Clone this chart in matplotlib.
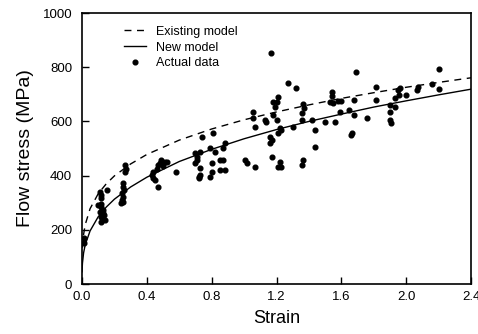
import numpy as np
import matplotlib.pyplot as plt

plt.rcParams['font.family'] = ['Liberation Sans', 'DejaVu Sans']

# --- Model curves ---
model_strain = [0.003, 0.01, 0.02, 0.05, 0.1, 0.15, 0.2, 0.3, 0.4, 0.6, 0.8,
                1.0, 1.2, 1.4, 1.6, 1.8, 2.0, 2.2, 2.4]
existing_stress = [134, 183, 219, 278, 333, 370, 399, 443, 478, 531, 572,
                   606, 635, 661, 685, 706, 726, 744, 761]
new_model_strain = [0.0] + model_strain
new_stress = [45, 77, 115, 145, 196, 248, 284, 313, 358, 394, 452, 497,
              536, 570, 600, 627, 653, 676, 698, 719]

# --- Measured data ---
data_strain = [
    0.01, 0.012,
    0.11, 0.12, 0.12, 0.152, 0.12, 0.12, 0.13, 0.13, 0.12, 0.135, 0.11, 0.14, 0.10, 0.115,
    0.265, 0.265, 0.255, 0.25, 0.245, 0.245, 0.25, 0.26, 0.24, 0.255, 0.27,
    0.523, 0.49, 0.47, 0.46, 0.44, 0.43, 0.45, 0.47, 0.48, 0.44, 0.51, 0.50,
    0.58,
    0.70, 0.708, 0.70, 0.728, 0.728, 0.72, 0.728, 0.739, 0.79, 0.80, 0.80, 0.79, 0.82,
    0.81, 0.85, 0.87, 0.85, 0.88, 0.87, 0.88, 0.71, 0.72,
    1.006, 1.02, 1.068, 1.057, 1.057, 1.068, 1.136, 1.13, 1.16, 1.16, 1.17, 1.17,
    1.167, 1.18, 1.20, 1.21, 1.19, 1.18, 1.20, 1.22, 1.21, 1.23, 1.22, 1.23, 1.21,
    1.27, 1.32, 1.30, 1.366, 1.37, 1.36, 1.356, 1.366, 1.36, 1.418, 1.44, 1.44,
    1.50, 1.56, 1.54, 1.545, 1.53, 1.55, 1.58, 1.60, 1.59, 1.644, 1.665, 1.66,
    1.68, 1.69, 1.68, 1.757, 1.815, 1.813,
    1.90, 1.90, 1.90, 1.905, 1.93, 1.93, 1.95, 1.96, 1.955, 2.00, 2.066, 2.07,
    2.16, 2.205, 2.205,
]
data_stress = [
    150, 170,
    340, 330, 318, 347, 296, 285, 273, 261, 248, 254, 267, 236, 290, 230,
    439, 414, 371, 359, 335, 310, 322, 347, 298, 304, 425,
    451, 457, 439, 426, 414, 402, 384, 359, 445, 390, 451, 437,
    414,
    482, 457, 445, 427, 402, 390, 488, 543, 396, 414, 445, 501, 488,
    556, 457, 457, 421, 421, 501, 519, 470, 396,
    457, 445, 433, 636, 611, 580, 599, 605, 543, 519, 531, 470,
    854, 673, 673, 691, 655, 624, 605, 574, 556, 568, 451, 433, 433,
    743, 722, 580, 664, 648, 630, 605, 457, 439, 605, 568, 507,
    599, 599, 710, 692, 673, 667, 676, 676, 636, 642, 556, 549,
    679, 781, 624, 611, 728, 679,
    661, 636, 605, 593, 654, 685, 716, 722, 697, 697, 716, 726,
    738, 792, 718,
]

fig = plt.figure(figsize=(4.78, 3.34), dpi=100)
ax = fig.add_axes([0.1715, 0.1497, 0.814, 0.8113])

ax.plot(model_strain, existing_stress, color='black', lw=1.0,
        linestyle=(0, (5, 4)), label='Existing model')
ax.plot(new_model_strain, new_stress, color='black', lw=1.0, label='New model')
ax.plot(data_strain, data_stress, 'o', color='black', markersize=3.4,
        linestyle='none', label='Actual data')

ax.set_xlim(0, 2.4)
ax.set_ylim(0, 1000)
ax.set_xticks([0.0, 0.4, 0.8, 1.2, 1.6, 2.0, 2.4])
ax.set_xticklabels(['0.0', '0.4', '0.8', '1.2', '1.6', '2.0', '2.4'])
ax.set_yticks([0, 200, 400, 600, 800, 1000])
ax.tick_params(direction='in', length=5, width=1, labelsize=9.5)
ax.tick_params(axis='y', pad=7)
ax.tick_params(axis='x', pad=5)
for s in ax.spines.values():
    s.set_linewidth(1.2)

ax.set_xlabel('Strain', fontsize=13, labelpad=5)
ax.set_ylabel('Flow stress (MPa)', fontsize=14, labelpad=6)

ax.legend(loc='upper left', bbox_to_anchor=(0.085, 0.985), frameon=False,
          fontsize=9, handlelength=1.8, handletextpad=0.8, labelspacing=0.3,
          borderaxespad=0.3)

fig.savefig('out.png', dpi=100)
